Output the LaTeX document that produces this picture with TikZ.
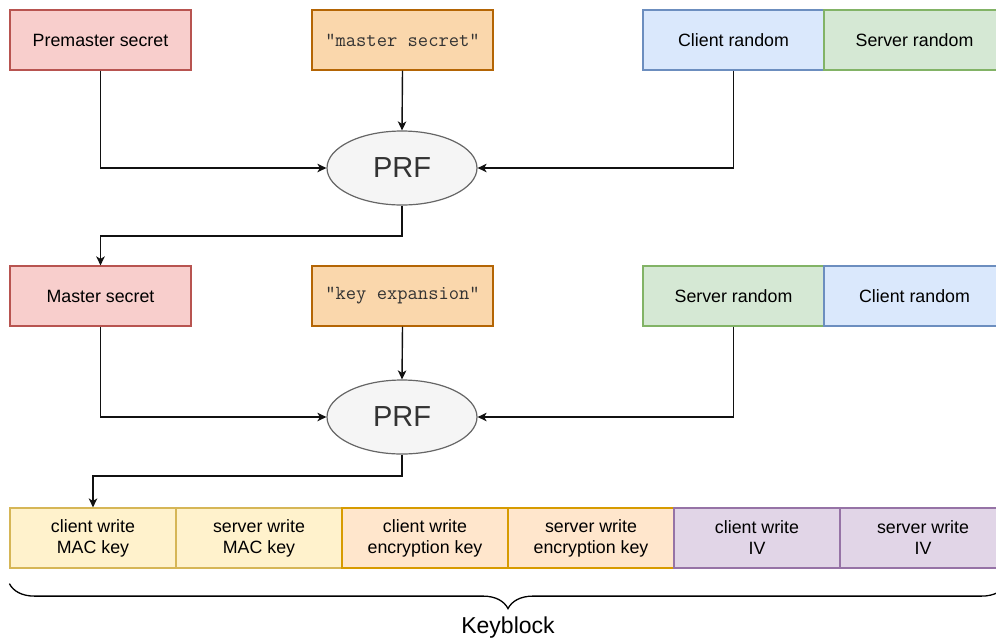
\documentclass[tikz,border=0pt]{standalone}
\usepackage{fontspec}
\setmainfont{Liberation Sans}
\usetikzlibrary{arrows.meta,decorations.pathreplacing,calc,shapes.geometric}

\definecolor{redfill}{HTML}{F8CECC}\definecolor{redline}{HTML}{B85450}
\definecolor{orfill}{HTML}{FAD7AC}\definecolor{orline}{HTML}{B46504}
\definecolor{bluefill}{HTML}{DAE8FC}\definecolor{blueline}{HTML}{6C8EBF}
\definecolor{grnfill}{HTML}{D5E8D4}\definecolor{grnline}{HTML}{82B366}
\definecolor{yelfill}{HTML}{FFF2CC}\definecolor{yelline}{HTML}{D6B656}
\definecolor{ltorfill}{HTML}{FFE6CC}\definecolor{ltorline}{HTML}{D79B00}
\definecolor{purfill}{HTML}{E1D5E7}\definecolor{purline}{HTML}{9673A6}
\definecolor{prffill}{HTML}{F5F5F5}\definecolor{prfline}{HTML}{666666}
\definecolor{darktext}{HTML}{333333}
\definecolor{edgecol}{HTML}{111111}

\begin{document}
\begin{tikzpicture}[x=1pt,y=-1pt,
  box/.style={rectangle, draw, line width=1.2pt, minimum width=181pt, minimum height=60pt,
    inner sep=0pt, align=center, font=\fontsize{17.8}{21}\selectfont, text=black},
  keybox/.style={box, minimum width=166pt},
  code/.style={box, font=\ttfamily\fontsize{20}{24}\selectfont, text=darktext},
  red/.style={fill=redfill, draw=redline},
  orng/.style={fill=orfill, draw=orline},
  blu/.style={fill=bluefill, draw=blueline},
  grn/.style={fill=grnfill, draw=grnline},
  yel/.style={fill=yelfill, draw=yelline},
  ltor/.style={fill=ltorfill, draw=ltorline},
  pur/.style={fill=purfill, draw=purline},
  prf/.style={ellipse, draw=prfline, fill=prffill, line width=1.2pt, minimum width=150pt,
    minimum height=74pt, inner sep=0pt, text=darktext, font=\fontsize{29}{34}\selectfont},
  arr/.style={draw=edgecol, line width=1.4pt, -{Stealth[length=9pt,width=8.5pt,inset=2.5pt]}},
]
\clip (0,0) rectangle (996,641);

% first derivation: premaster secret -> master secret
\node[box,red]  (pre) at (100.5,40) {Premaster secret};
\node[code,orng] (ms) at (402.5,40) {"master secret"};
\node[box,blu]  (cr1) at (733.5,40) {Client random};
\node[box,grn]  (sr1) at (914.5,40) {Server random};
\node[prf] (prf1) at (402,168) {PRF};

% second derivation: master secret -> key block
\node[box,red]  (msec) at (100.5,296) {Master secret};
\node[code,orng] (ke) at (402.5,296) {"key expansion"};
\node[box,grn]  (sr2) at (733.5,296) {Server random};
\node[box,blu]  (cr2) at (914.5,296) {Client random};
\node[prf] (prf2) at (402,417) {PRF};

% key block
\node[keybox,yel]  (k1) at (93,538)  {client write\\MAC key};
\node[keybox,yel]  (k2) at (259,538) {server write\\MAC key};
\node[keybox,ltor] (k3) at (425,538) {client write\\encryption key};
\node[keybox,ltor] (k4) at (591,538) {server write\\encryption key};
\node[keybox,pur]  (k5) at (757,538) {client write\\IV};
\node[keybox,pur]  (k6) at (923,538) {server write\\IV};

% connectors
\coordinate (j1) at (100.5,236);
\coordinate (j2) at (93,476);
\draw[arr] (pre.south) |- (prf1.west);
\draw[arr] (ms.south) -- (prf1.north);
\draw[arr] (cr1.south) |- (prf1.east);
\draw[arr] (prf1.south) |- (j1) -- (msec.north);

\draw[arr] (msec.south) |- (prf2.west);
\draw[arr] (ke.south) -- (prf2.north);
\draw[arr] (sr2.south) |- (prf2.east);
\draw[arr] (prf2.south) |- (j2) -- (k1.north);

% brace under the key block
\coordinate (bl) at ($(k1.south west)+(0,15)$);
\coordinate (br) at ($(k6.south east)+(0,15)$);
\draw[line width=1.3pt, decorate, decoration={brace, mirror, amplitude=25pt}] (bl) -- (br);
\node[font=\fontsize{23}{27}\selectfont, text=black] (kb) at (508,628) {Keyblock};
\end{tikzpicture}
\end{document}
